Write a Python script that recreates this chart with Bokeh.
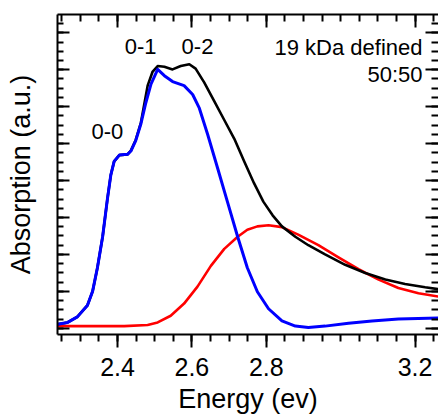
from bokeh.plotting import figure
from bokeh.models import (Range1d, LinearAxis, FixedTicker, SingleIntervalTicker, Label,
                          CustomLabelingPolicy)
from bokeh.embed import file_html
from bokeh.resources import INLINE

# ---- data ----
blue_e = [2.239, 2.266, 2.292, 2.319, 2.333, 2.346, 2.360, 2.373, 2.382, 2.391, 2.405, 2.427,
          2.436, 2.449, 2.463, 2.476, 2.490, 2.508, 2.526, 2.548, 2.579, 2.602, 2.620, 2.642,
          2.669, 2.696, 2.723, 2.749, 2.776, 2.806, 2.842, 2.878, 2.913, 2.958, 3.021, 3.084,
          3.155, 3.263]
blue_a = [0.011, 0.016, 0.031, 0.062, 0.100, 0.164, 0.248, 0.351, 0.415, 0.452, 0.469, 0.471,
          0.480, 0.508, 0.554, 0.610, 0.661, 0.701, 0.684, 0.668, 0.657, 0.633, 0.596, 0.526,
          0.434, 0.341, 0.248, 0.164, 0.099, 0.053, 0.020, 0.006, 0.002, 0.006, 0.014, 0.020,
          0.025, 0.028]

red_e = [2.239, 2.418, 2.481, 2.508, 2.543, 2.579, 2.615, 2.651, 2.687, 2.723, 2.749, 2.776,
         2.806, 2.842, 2.887, 2.940, 2.994, 3.048, 3.102, 3.155, 3.209, 3.263]
red_a = [0.006, 0.006, 0.009, 0.016, 0.034, 0.067, 0.113, 0.169, 0.215, 0.248, 0.267, 0.276,
         0.279, 0.274, 0.253, 0.225, 0.192, 0.160, 0.132, 0.109, 0.095, 0.086]

black_e = [2.239, 2.266, 2.292, 2.319, 2.333, 2.346, 2.360, 2.373, 2.382, 2.391, 2.405, 2.427,
           2.436, 2.449, 2.463, 2.481, 2.494, 2.508, 2.526, 2.548, 2.570, 2.593, 2.610, 2.633,
           2.660, 2.687, 2.714, 2.741, 2.767, 2.792, 2.817, 2.842, 2.878, 2.913, 2.958, 3.012,
           3.066, 3.120, 3.173, 3.227, 3.263]
black_a = [0.011, 0.016, 0.031, 0.062, 0.100, 0.164, 0.248, 0.351, 0.415, 0.452, 0.469, 0.471,
           0.481, 0.510, 0.557, 0.657, 0.694, 0.710, 0.708, 0.701, 0.710, 0.715, 0.703, 0.666,
           0.615, 0.564, 0.513, 0.451, 0.393, 0.343, 0.306, 0.276, 0.248, 0.225, 0.200, 0.172,
           0.150, 0.132, 0.120, 0.111, 0.106]

x_tick_values = [2.4, 2.6, 2.8, 3.2]
x_minor_ticks = [round(2.25 + 0.05 * i, 2) for i in range(21)]

peak_labels = ["0-0", "0-1", "0-2"]
peak_label_e = [2.373, 2.462, 2.615]
peak_label_a = [0.532, 0.763, 0.763]

FONT = "Liberation Sans"

p = figure(width=438, height=416, output_backend="svg", toolbar_location=None,
           x_range=Range1d(2.2387, 3.2629), y_range=Range1d(-0.0167, 0.8496),
           x_axis_type=None, y_axis_type=None,
           min_border_left=57, min_border_right=0, min_border_top=14, min_border_bottom=0)
p.outline_line_color = None
p.grid.visible = False
p.background_fill_color = "white"
p.border_fill_color = "white"

xticker = FixedTicker(ticks=x_tick_values, minor_ticks=x_minor_ticks)
yticker = SingleIntervalTicker(interval=0.1, num_minor_ticks=4)


def no_labels(ax):
    ax.major_label_policy = CustomLabelingPolicy(code="return []")
    ax.major_label_text_font_size = "0px"
    ax.major_label_standoff = 0


# bottom axis
xb = LinearAxis(ticker=xticker, axis_label="Energy (ev)")
xb.axis_line_width = 2
xb.major_tick_line_width = 2
xb.minor_tick_line_width = 2
xb.major_tick_in = 0
xb.major_tick_out = 13
xb.minor_tick_in = 0
xb.minor_tick_out = 7
xb.major_label_text_font = FONT
xb.major_label_text_font_size = "25px"
xb.major_label_text_color = "black"
xb.major_label_standoff = 10
xb.axis_label_text_font = FONT
xb.axis_label_text_font_size = "27px"
xb.axis_label_text_font_style = "normal"
xb.axis_label_text_color = "black"
xb.axis_label_standoff = 5
p.add_layout(xb, "below")

# top axis (ticks inside, no labels)
xt = LinearAxis(ticker=xticker)
xt.axis_line_width = 2
xt.major_tick_line_width = 2
xt.minor_tick_line_width = 2
xt.major_tick_in = 13
xt.major_tick_out = 0
xt.minor_tick_in = 7
xt.minor_tick_out = 0
no_labels(xt)
p.add_layout(xt, "above")

# left axis
yl = LinearAxis(ticker=yticker, axis_label="Absorption (a.u.)")
yl.axis_line_width = 2
yl.major_tick_line_width = 2
yl.minor_tick_line_width = 2
yl.major_tick_in = 12
yl.major_tick_out = 0
yl.minor_tick_in = 6
yl.minor_tick_out = 0
no_labels(yl)
yl.axis_label_text_font = FONT
yl.axis_label_text_font_size = "27px"
yl.axis_label_text_font_style = "normal"
yl.axis_label_text_color = "black"
yl.axis_label_standoff = 22
p.add_layout(yl, "left")

# right axis (ticks inside only)
yr = LinearAxis(ticker=yticker)
yr.axis_line_color = None
yr.major_tick_line_width = 2
yr.minor_tick_line_width = 2
yr.major_tick_in = 13
yr.major_tick_out = 0
yr.minor_tick_in = 7
yr.minor_tick_out = 0
no_labels(yr)
p.add_layout(yr, "right")

p.line(red_e, red_a, line_color="#ff0000", line_width=2.6, line_join="round")
p.line(black_e, black_a, line_color="black", line_width=2.6, line_join="round")
p.line(blue_e, blue_a, line_color="#0000ff", line_width=3, line_join="round")

for t, xe, ya in zip(peak_labels, peak_label_e, peak_label_a):
    p.add_layout(Label(x=xe, y=ya, text=t, text_align="center", text_baseline="middle",
                       text_font=FONT, text_font_size="22px", text_color="black"))

p.add_layout(Label(x=3.2199, y=0.760, text="19 kDa defined", text_align="right",
                   text_baseline="middle", text_font=FONT, text_font_size="22px",
                   text_color="black"))
p.add_layout(Label(x=3.2199, y=0.688, text="50:50", text_align="right",
                   text_baseline="middle", text_font=FONT, text_font_size="22px",
                   text_color="black"))

open("out.html", "w").write(file_html(p, INLINE))
